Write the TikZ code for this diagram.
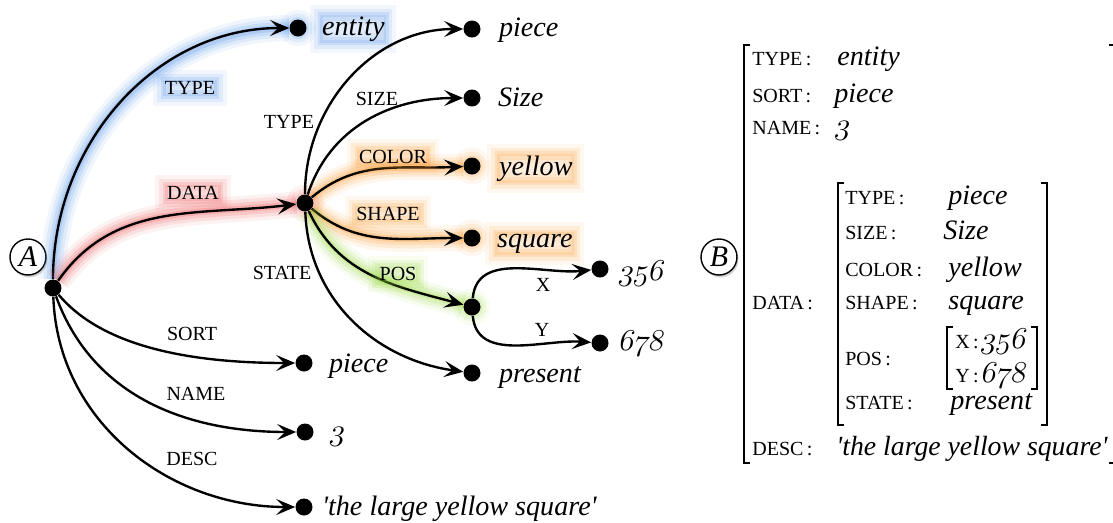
\documentclass[tikz,border=0pt]{standalone}
\usepackage{fontspec}
\setmainfont{Liberation Serif}
\usetikzlibrary{arrows.meta, shadows, positioning}

\newcommand\osf[1]{{\usefont{OML}{cmm}{m}{it}#1}}

\definecolor{glowblue}{RGB}{80,145,230}
\definecolor{glowred}{RGB}{235,85,85}
\definecolor{gloworange}{RGB}{250,150,40}
\definecolor{glowgreen}{RGB}{150,215,60}

\tikzset{
  vdot/.style={circle, fill=black, inner sep=0pt, minimum size=0.34cm},
  tag/.style={circle, draw, thick, fill=white, inner sep=0pt, minimum size=0.72cm,
    font=\fontsize{17}{20}\selectfont, drop shadow={shadow xshift=0.8pt, shadow yshift=-1.4pt, opacity=.35}},
  feat/.style={font=\fontsize{11.4}{13}\selectfont, inner sep=1pt},
  val/.style={font=\fontsize{16}{19}\selectfont\itshape, inner sep=1pt, anchor=base west},
  numval/.style={font=\fontsize{16}{19}\selectfont, inner sep=1pt, anchor=base west,
    xslant=0.2, transform shape},
  link/.style={line width=1.35pt, -{Stealth[length=0.38cm, width=0.32cm, inset=0.16cm]}},
  glow/.style={
    preaction={draw=#1, arrows=-, line width=0.52cm, opacity=.08},
    preaction={draw=#1, arrows=-, line width=0.38cm, opacity=.12},
    preaction={draw=#1, arrows=-, line width=0.25cm, opacity=.16},
    preaction={draw=#1, arrows=-, line width=0.13cm, opacity=.22}},
  halo/.style={
    preaction={draw=#1, line width=0.4cm, opacity=.07, rounded corners=6pt},
    preaction={draw=#1, line width=0.24cm, opacity=.12, rounded corners=6pt},
    preaction={draw=#1, line width=0.1cm, opacity=.16, rounded corners=6pt},
    preaction={fill=#1, opacity=.16, rounded corners=6pt}},
  avmkey/.style={font=\fontsize{11.4}{13}\selectfont, inner sep=0pt, anchor=base west},
  avmval/.style={font=\fontsize{16}{19}\selectfont\itshape, inner sep=0pt, anchor=base west},
  bracket/.style={line width=0.6pt},
}

\begin{document}
\begin{tikzpicture}[x=0.02cm, y=0.02cm]
\useasboundingbox (0,0) rectangle (1113,-522);

% the graph
\node[tag] (tagA) at (28,-257) {\itshape A};
\node[vdot] (a) at (53,-288) {};
\node[vdot, halo=glowblue] (nEntity) at (298,-28) {};
\node[vdot, halo=glowred] (nData) at (305,-203) {};
\node[vdot] (nType) at (472,-29) {};
\node[vdot] (nSize) at (472,-98) {};
\node[vdot, halo=gloworange] (nColor) at (472,-166) {};
\node[vdot, halo=gloworange] (nShape) at (472,-238) {};
\node[vdot, halo=glowgreen] (nPos) at (472,-307) {};
\node[vdot] (nState) at (472,-373) {};
\node[vdot] (nX) at (600,-269) {};
\node[vdot] (nY) at (600,-343) {};
\node[vdot] (nSort) at (304,-363) {};
\node[vdot] (nName) at (305,-432) {};
\node[vdot] (nDesc) at (304,-507) {};

\node[val, halo=glowblue] (vEntity) at (320,-35) {entity};
\node[val] (vType) at (497,-36) {piece};
\node[val] (vSize) at (496,-106) {Size};
\node[val, halo=gloworange] (vColor) at (497,-175) {yellow};
\node[val, halo=gloworange] (vShape) at (495,-247) {square};
\node[shift={(616,-280)}, numval] (vX) at (0,0) {\osf{356}};
\node[shift={(616,-350)}, numval] (vY) at (0,0) {\osf{678}};
\node[val] (vState) at (497,-382) {present};
\node[val] (vSort) at (327,-372) {piece};
\node[shift={(327,-440)}, numval] (vName) at (0,0) {\osf{3}};
\node[val] (vDesc) at (320,-515) {\textquotesingle the large yellow square\textquotesingle};

% highlighted paths
\draw[link, glow=glowblue] (a) to[out=90, in=180] (nEntity);
\draw[link, glow=glowred] (a) to[out=55, in=187] (nData);
\draw[link, glow=gloworange] (nData) to[out=40, in=183] (nColor);
\draw[link, glow=gloworange] (nData) to[out=-40, in=180] (nShape);
\draw[link, glow=glowgreen] (nData) to[out=-65, in=165] (nPos);

% the other paths
\draw[link] (nData) to[out=90, in=180] (nType);
\draw[link] (nData) to[out=72, in=180] (nSize);
\draw[link] (nData) to[out=-88, in=172] (nState);
\draw[link] (nPos) to[out=85, in=186] (nX);
\draw[link] (nPos) to[out=-85, in=176] (nY);
\draw[link] (a) to[out=-50, in=180, out looseness=0.6, in looseness=1.3] (nSort);
\draw[link] (a) to[out=-70, in=180] (nName);
\draw[link] (a) to[out=-88, in=180] (nDesc);

\node[feat, halo=glowblue] (lType) at (190,-88) {TYPE};
\node[feat, halo=glowred] (lData) at (193,-193) {DATA};
\node[feat] (lType2) at (289,-122) {TYPE};
\node[feat] (lSize) at (377,-99) {SIZE};
\node[feat, halo=gloworange] (lColor) at (393,-157) {COLOR};
\node[feat, halo=gloworange] (lShape) at (388,-214) {SHAPE};
\node[feat] (lState) at (282,-273) {STATE};
\node[feat, halo=glowgreen] (lPos) at (398,-274) {POS};
\node[feat] (lX) at (543,-285) {X};
\node[feat] (lY) at (542,-330) {Y};
\node[feat] (lSort) at (192,-334) {SORT};
\node[feat] (lName) at (196,-394) {NAME};
\node[feat] (lDesc) at (192,-459) {DESC};

% the matrix
\node[tag] (tagB) at (719,-257) {\itshape B};
\draw[bracket] (750,-45) -| (744,-463) -- (750,-463);
\draw[bracket] (1109,-45) -| (1116,-463) -- (1109,-463);
\draw[bracket] (844,-183) -| (838,-425) -- (844,-425);
\draw[bracket] (1041,-183) -| (1047,-425) -- (1041,-425);
\draw[bracket] (953,-327) -| (947,-389) -- (953,-389);
\draw[bracket] (1031,-327) -| (1037,-389) -- (1031,-389);

\node[avmkey] (kType) at (752,-65) {TYPE\,:};
\node[avmval] (wType) at (837,-65) {entity};
\node[avmkey] (kSort) at (752,-102) {SORT\,:};
\node[avmval] (wSort) at (834,-102) {piece};
\node[avmkey] (kName) at (752,-134) {NAME\,:};
\node[shift={(834,-134)}, numval, inner sep=0pt] (wName) at (0,0) {\osf{3}};
\node[avmkey] (kData) at (752,-309) {DATA\,:};
\node[avmkey] (kDesc) at (752,-455) {DESC\,:};
\node[avmval, font=\fontsize{15.8}{18}\selectfont\itshape] (wDesc) at (836,-455) {\textquotesingle the large yellow square\textquotesingle};

\node[avmkey] (kdType) at (845,-204) {TYPE\,:};
\node[avmval] (wdType) at (948,-204) {piece};
\node[avmkey] (kdSize) at (845,-239) {SIZE\,:};
\node[avmval] (wdSize) at (943,-239) {Size};
\node[avmkey] (kdColor) at (845,-276) {COLOR\,:};
\node[avmval] (wdColor) at (948,-276) {yellow};
\node[avmkey] (kdShape) at (845,-309) {SHAPE\,:};
\node[avmval] (wdShape) at (948,-309) {square};
\node[avmkey] (kdPos) at (845,-365) {POS\,:};
\node[avmkey] (kdState) at (845,-409) {STATE\,:};
\node[avmval] (wdState) at (950,-409) {present};

\node[avmkey] (kpX) at (955,-348) {X\,:};
\node[shift={(980,-348)}, numval, inner sep=0pt] (wpX) at (0,0) {\osf{356}};
\node[avmkey] (kpY) at (955,-382) {Y\,:};
\node[shift={(980,-382)}, numval, inner sep=0pt] (wpY) at (0,0) {\osf{678}};
\end{tikzpicture}
\end{document}
